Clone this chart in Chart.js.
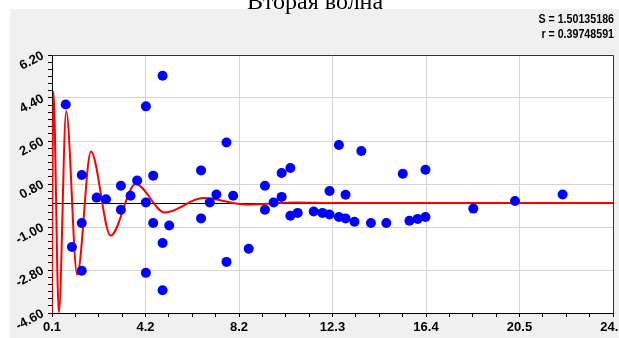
<!DOCTYPE html>
<html>
<head>
<meta charset="utf-8">
<script src="https://cdn.jsdelivr.net/npm/chart.js@4.4.1/dist/chart.umd.min.js"></script>
<style>
  html, body { margin: 0; padding: 0; background: #fff; }
  #wrap { width: 619px; height: 338px; }
</style>
</head>
<body>
<div id="wrap"><canvas id="waveChart" width="619" height="338"></canvas></div>
<script>
const chartTitle = 'Вторая волна';
const statLines = ['S = 1.50135186', 'r = 0.39748591'];

// measured points (blue)
const obsX = [0.70, 4.20, 4.93, 1.40, 0.97, 1.40, 1.40, 2.05, 2.46, 3.11,
              3.11, 3.53, 3.82, 4.20, 4.20, 4.52, 4.52, 4.93, 4.93, 5.22,
              6.61, 6.61, 6.99, 7.28, 7.72, 7.72, 8.01, 8.69, 9.40, 9.40,
              9.78, 10.13, 10.13, 10.51, 10.51, 10.83, 11.53, 11.91, 12.22, 12.22,
              12.63, 12.63, 12.92, 12.92, 13.31, 13.61, 14.03, 14.70, 15.42, 15.71,
              16.07, 16.41, 16.41, 18.50, 20.32, 22.40];
const obsY = [4.13, 4.05, 5.33, 1.18, -1.84, -0.83, -2.83, 0.23, 0.16, 0.73,
              -0.28, 0.31, 0.95, 0.03, -2.92, 1.15, -0.83, -1.67, -3.65, -0.94,
              1.37, -0.64, 0.03, 0.36, 2.54, -2.46, 0.31, -1.91, 0.73, -0.28,
              0.03, 0.26, 1.26, 1.47, -0.53, -0.41, -0.35, -0.41, 0.51, -0.48,
              2.43, -0.58, 0.35, -0.64, -0.78, 2.18, -0.83, -0.83, 1.23, -0.74,
              -0.66, -0.58, 1.40, -0.23, 0.09, 0.36];

// fitted wave (red), read at its peaks and troughs
const fitX = [0.08, 0.16, 0.40, 0.72, 1.20, 1.80, 2.66, 3.75, 5.03, 6.70, 8.60, 10.8, 12.5, 24.6];
const fitY = [-5.2, 4.67, -4.58, 3.86, -3.00, 2.16, -1.36, 0.80, -0.39, 0.21, -0.06, 0.03, 0.0, 0.0];

const xTickLabels = ['0.1', '4.2', '8.2', '12.3', '16.4', '20.5', '24.6'];
const yTickLabels = ['-4.60', '-2.80', '-1.00', '0.80', '2.60', '4.40', '6.20'];
const xRange = [0.1, 24.6];
const yRange = [-4.6, 6.2];

function buildTicks(lo, hi, nMajor, nSub) {
    const n = (nMajor - 1) * nSub;
    const step = (hi - lo) / n;
    const ticks = [];
    for (let i = 0; i <= n; i++) {
        ticks.push({ value: lo + i * step, major: i % nSub === 0 });
    }
    return ticks;
}

const backdrop = {
    id: 'backdrop',
    beforeDraw(chart) {
        const c = chart.ctx;
        const a = chart.chartArea;
        c.save();
        c.fillStyle = '#ffffff';
        c.fillRect(0, 0, chart.width, chart.height);
        c.fillStyle = '#f0f0f0';
        c.fillRect(10, 9, chart.width - 10, chart.height - 9);
        c.fillStyle = '#ffffff';
        c.fillRect(a.left, a.top, a.right - a.left, a.bottom - a.top);

        // title, cut by the top edge
        c.fillStyle = '#000';
        c.font = '24px "Liberation Serif", "Times New Roman", serif';
        c.textAlign = 'center';
        c.textBaseline = 'alphabetic';
        c.fillText(chartTitle, 315, 9);

        // stats, condensed bold
        c.font = 'bold 13px "Liberation Sans", Arial, sans-serif';
        c.textAlign = 'right';
        [23, 38].forEach((y, i) => {
            c.save();
            c.translate(614, y);
            c.scale(0.82, 1);
            c.fillText(statLines[i], 0, 0);
            c.restore();
        });
        c.restore();
    },
    beforeDatasetsDraw(chart) {
        const c = chart.ctx;
        const a = chart.chartArea;
        const y0 = chart.scales.y.getPixelForValue(0);
        c.save();
        c.strokeStyle = '#000';
        c.lineWidth = 1;
        c.beginPath();
        c.moveTo(a.left, Math.round(y0) + 0.5);
        c.lineTo(a.right, Math.round(y0) + 0.5);
        c.stroke();
        c.strokeStyle = '#333';
        c.beginPath();
        c.moveTo(a.left, a.top + 0.5);
        c.lineTo(a.right + 0.5, a.top + 0.5);
        c.lineTo(a.right + 0.5, a.bottom);
        c.stroke();
        c.restore();
    }
};

window.onload = function () {
    const ctx = document.getElementById('waveChart').getContext('2d');
    const tickFont = { family: '"Liberation Sans", Arial, sans-serif', size: 13, weight: 'bold' };

    new Chart(ctx, {
        type: 'scatter',
        data: {
            datasets: [
                {
                    label: 'data',
                    data: obsX.map((x, i) => ({ x: x, y: obsY[i] })),
                    backgroundColor: '#0000ff',
                    borderWidth: 0,
                    pointRadius: 5,
                    pointHoverRadius: 5
                },
                {
                    label: 'fit',
                    data: fitX.map((x, i) => ({ x: x, y: fitY[i] })),
                    showLine: true,
                    borderColor: '#ff0000',
                    borderWidth: 2,
                    pointRadius: 0,
                    cubicInterpolationMode: 'monotone'
                }
            ]
        },
        options: {
            responsive: false,
            animation: false,
            layout: { padding: { top: 55, right: 6, left: 0, bottom: 0 } },
            plugins: {
                legend: { display: false },
                tooltip: { enabled: false }
            },
            scales: {
                x: {
                    type: 'linear',
                    min: xRange[0],
                    max: xRange[1],
                    afterBuildTicks: s => { s.ticks = buildTicks(xRange[0], xRange[1], xTickLabels.length, 4); },
                    afterFit: s => { s.height = 25; s.paddingLeft = 0; s.paddingRight = 0; },
                    ticks: {
                        autoSkip: false,
                        maxRotation: 0,
                        padding: 3,
                        color: '#000',
                        font: tickFont,
                        callback: (v, i) => (i % 4 === 0 ? xTickLabels[i / 4] : '')
                    },
                    grid: {
                        color: c => (c.tick && c.tick.major ? '#d4d4d4' : 'rgba(0,0,0,0)'),
                        tickColor: '#000',
                        tickLength: 4
                    },
                    border: { color: '#000', width: 1 }
                },
                y: {
                    type: 'linear',
                    min: yRange[0],
                    max: yRange[1],
                    afterBuildTicks: s => { s.ticks = buildTicks(yRange[0], yRange[1], yTickLabels.length, 6); },
                    afterFit: s => { s.width = 52; s.paddingTop = 0; s.paddingBottom = 0; },
                    ticks: {
                        autoSkip: false,
                        minRotation: 28,
                        maxRotation: 28,
                        padding: 5,
                        color: '#000',
                        font: tickFont,
                        callback: (v, i) => (i % 6 === 0 ? yTickLabels[i / 6] : '')
                    },
                    grid: {
                        color: c => (c.tick && c.tick.major ? '#d4d4d4' : 'rgba(0,0,0,0)'),
                        tickColor: '#000',
                        tickLength: 4
                    },
                    border: { color: '#000', width: 1 }
                }
            }
        },
        plugins: [backdrop]
    });
};
</script>
</body>
</html>
